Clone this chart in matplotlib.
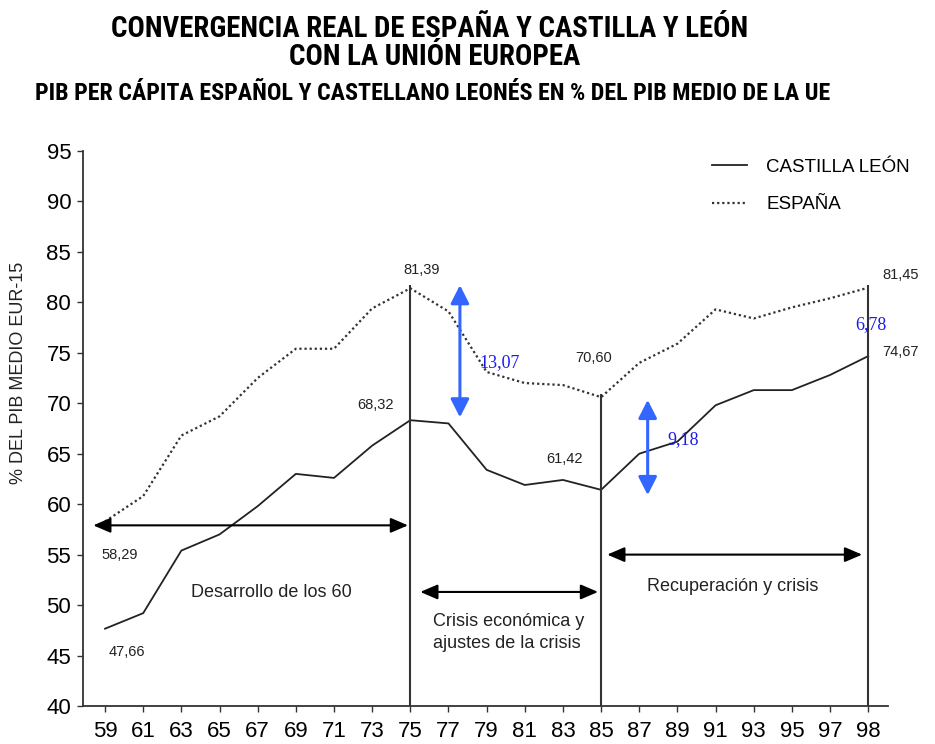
import matplotlib
matplotlib.use("Agg")
import matplotlib.pyplot as plt

# datos (indice de categoria = posicion en el eje x)
years = ["59", "61", "63", "65", "67", "69", "71", "73", "75", "77", "79",
         "81", "83", "85", "87", "89", "91", "93", "95", "97", "98"]
espana = [58.29, 60.8, 66.8, 68.7, 72.5, 75.4, 75.4, 79.4, 81.39, 79.1, 73.1,
          72.0, 71.8, 70.60, 74.0, 75.9, 79.3, 78.4, 79.5, 80.4, 81.45]
castilla = [47.66, 49.2, 55.4, 57.0, 59.8, 63.0, 62.6, 65.8, 68.32, 68.0, 63.4,
            61.9, 62.4, 61.42, 65.0, 66.2, 69.8, 71.3, 71.3, 72.8, 74.67]

# cortes de periodo (75, 85, 98)
cuts = [8, 13, 20]

# etiquetas de valores: (texto, x, y)
value_labels = [("81,39", 8.3, 83.2), ("68,32", 7.08, 69.8),
                ("58,29", 0.39, 55.0), ("47,66", 0.57, 45.3),
                ("70,60", 12.8, 74.45), ("61,42", 12.03, 64.45),
                ("81,45", 20.84, 82.7), ("74,67", 20.84, 75.1)]

# diferencias (flechas azules): (texto, x flecha, y0, y1, x texto, y texto)
gaps = [("13,07", 9.3, 68.6, 81.7, 10.33, 74.0),
        ("9,18", 14.22, 60.9, 70.33, 15.14, 66.4),
        ("6,78", 21.1, 76.1, 81.8, 20.07, 77.76)]

# periodos (flechas negras): (x0, x1, y)
periods = [(-0.31, 7.94, 57.9), (8.26, 12.92, 51.3), (13.16, 19.84, 55.0)]

sans = ["Liberation Sans", "DejaVu Sans"]
narrow = ["Roboto Condensed", "DejaVu Sans"]
plt.rcParams['font.family'] = sans

fig = plt.figure(figsize=(9.35, 7.44), dpi=100)
ax = fig.add_axes([0.0888, 0.0511, 0.861, 0.746])

xs = list(range(len(years)))
ax.plot(xs, castilla, color='#222222', lw=1.3, label="CASTILLA LEÓN")
ax.plot(xs, espana, color='#333333', lw=1.6, linestyle=(0, (1, 1.3)),
        label="ESPAÑA")

# lineas verticales de los periodos
ax.vlines(cuts, 40, [espana[i] + 0.3 for i in cuts], color='#333333', lw=1.5)

ax.set_xlim(-0.577, 20.52)
ax.set_ylim(40, 95)
ax.set_xticks(xs)
ax.set_xticklabels(years)
ax.set_yticks(range(40, 96, 5))
ax.tick_params(axis='both', labelsize=16, length=4.5, width=1,
               color='#333333', direction='out')
ax.tick_params(axis='y', pad=4)
ax.tick_params(axis='x', pad=6)
for side in ('top', 'right'):
    ax.spines[side].set_visible(False)
for side in ('left', 'bottom'):
    ax.spines[side].set_linewidth(1.3)
    ax.spines[side].set_color('#333333')

# etiquetas de valores
for txt, x, y in value_labels:
    ax.text(x, y, txt, ha='center', va='center', fontsize=10.5,
            color='#222222')

# flechas de periodos
for x0, x1, y in periods:
    ax.annotate("", xy=(x1, y), xytext=(x0, y),
                arrowprops=dict(arrowstyle='<|-|>,head_length=0.7,head_width=0.3',
                                mutation_scale=15, color='black', lw=1.5,
                                shrinkA=0, shrinkB=0))

ax.text(4.35, 51.2, "Desarrollo de los 60", ha='center', va='center',
        fontsize=13, color='#222222')
ax.text(8.59, 47.25, "Crisis económica y\najustes de la crisis", ha='left',
        va='center', fontsize=13, color='#222222', linespacing=1.4)
ax.text(16.45, 51.8, "Recuperación y crisis", ha='center', va='center',
        fontsize=13, color='#222222')

# diferencias en azul
for txt, xa, y0, y1, xt, yt in gaps:
    ax.annotate("", xy=(xa, y1), xytext=(xa, y0),
                arrowprops=dict(arrowstyle='<|-|>,head_length=0.55,head_width=0.28',
                                mutation_scale=20, color='#3366ff', lw=2.2,
                                shrinkA=0, shrinkB=0))
    ax.text(xt, yt, txt, ha='center', va='center', fontsize=13,
            family=["Liberation Serif", "DejaVu Serif"], color='#1a1aee')

leg = ax.legend(loc='upper left', bbox_to_anchor=(0.76, 1.017), frameon=False,
                fontsize=13.5, handlelength=1.9, handletextpad=1.0,
                labelspacing=1.1)

# titulos
fig.text(0.459, 0.9503, "CONVERGENCIA REAL DE ESPAÑA Y CASTILLA Y LEÓN",
         ha='center', va='baseline', fontsize=20.8, fontweight='bold',
         family=narrow)
fig.text(0.465, 0.9126, "CON LA UNIÓN EUROPEA", ha='center', va='baseline',
         fontsize=20.8, fontweight='bold', family=narrow)
fig.text(0.4626, 0.8656,
         "PIB PER CÁPITA ESPAÑOL Y CASTELLANO LEONÉS EN % DEL PIB MEDIO DE LA UE",
         ha='center', va='baseline', fontsize=17.3, fontweight='bold',
         family=narrow)
fig.text(0.0193, 0.4993, "% DEL PIB MEDIO EUR-15", rotation=90, ha='center',
         va='center', fontsize=13, color='#222222')

fig.savefig("out.png", dpi=100)
